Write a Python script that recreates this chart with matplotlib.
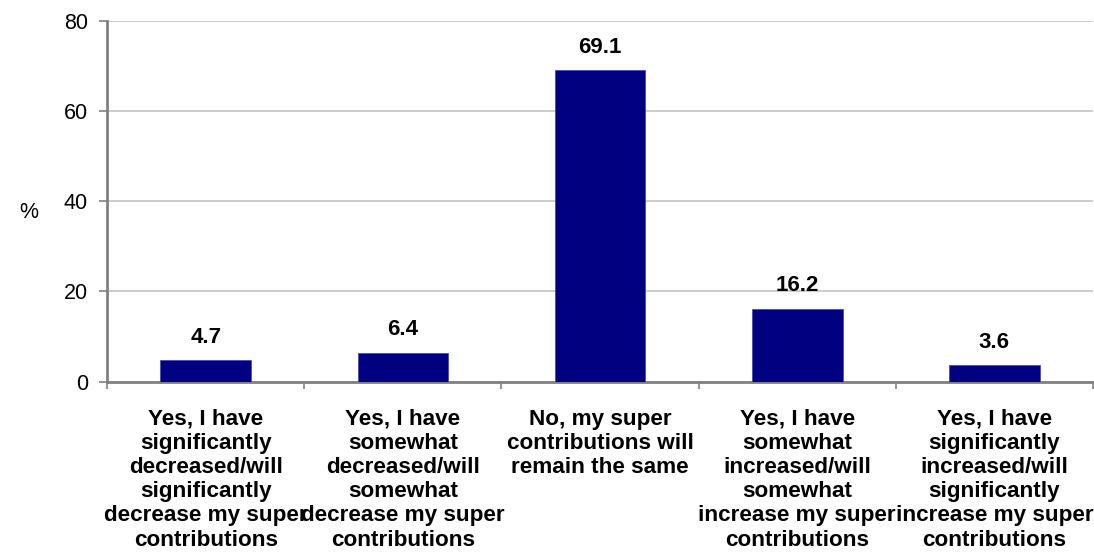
import numpy as np
import matplotlib
matplotlib.use('Agg')
import matplotlib.pyplot as plt

CATEGORIES = [
    'Yes, I have\nsignificantly\ndecreased/will\nsignificantly\ndecrease my super\ncontributions',
    'Yes, I have\nsomewhat\ndecreased/will\nsomewhat\ndecrease my super\ncontributions',
    'No, my super\ncontributions will\nremain the same',
    'Yes, I have\nsomewhat\nincreased/will\nsomewhat\nincrease my super\ncontributions',
    'Yes, I have\nsignificantly\nincreased/will\nsignificantly\nincrease my super\ncontributions',
]
VALUES = [4.7, 6.4, 69.1, 16.2, 3.6]
Y_TICKS = [0, 20, 40, 60, 80]

plt.rcParams['font.family'] = ['Liberation Sans', 'DejaVu Sans']

fig = plt.figure(figsize=(10.94, 5.53), dpi=100)
ax = fig.add_axes([0.098, 0.31, 0.901, 0.652])

x = np.arange(len(VALUES))
ax.bar(x, VALUES, width=0.46, color='#000080', edgecolor='#4a4ab0', linewidth=0.6, zorder=3)

for xi, v in zip(x, VALUES):
    ax.annotate(f'{v:.1f}', (xi, v), xytext=(0, 9), textcoords='offset points',
                ha='center', va='bottom', fontsize=16, fontweight='bold', color='black')

ax.set_xlim(-0.5, len(VALUES) - 0.5)
ax.set_ylim(0, 80)
ax.set_yticks(Y_TICKS)
ax.grid(axis='y', color='#c4c4c4', linewidth=1.2, zorder=0)

# boundaries get the tick marks, centres get the labels
ax.set_xticks(np.arange(len(VALUES) + 1) - 0.5)
ax.set_xticklabels([])
ax.set_xticks(x, minor=True)
ax.set_xticklabels(CATEGORIES, minor=True, fontsize=16.2, fontweight='bold',
                   linespacing=1.2)
ax.tick_params(axis='x', which='minor', length=0, pad=19.5)
ax.tick_params(axis='x', which='major', length=5, width=1.2, color='#808080')
ax.tick_params(axis='y', length=6, width=1.2, color='#808080', labelsize=15.5, pad=8)

for side in ('top', 'right'):
    ax.spines[side].set_visible(False)
for side in ('left', 'bottom'):
    ax.spines[side].set_color('#808080')
    ax.spines[side].set_linewidth(2)

fig.text(0.026, 0.615, '%', fontsize=15.5, ha='center', va='center')

fig.savefig('out.png', dpi=100)
